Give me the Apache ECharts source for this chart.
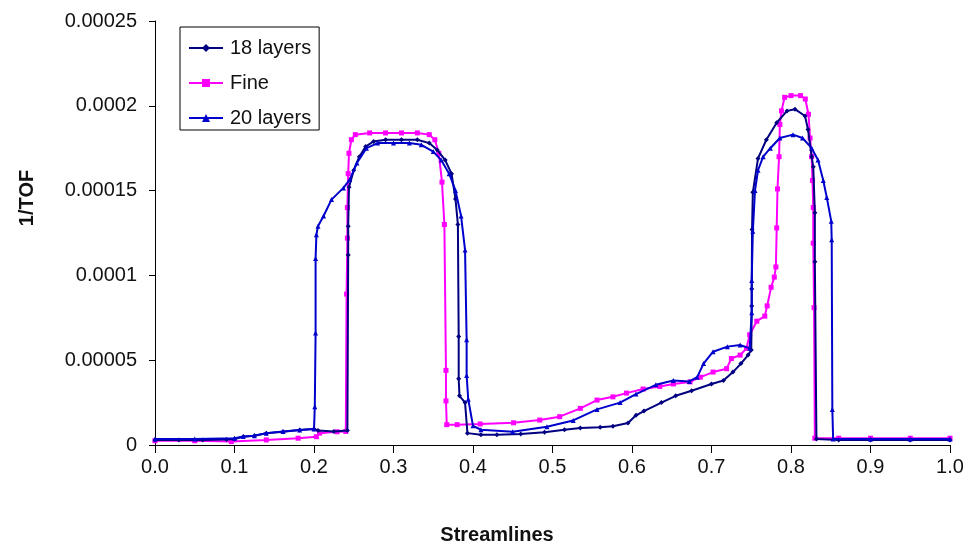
<!DOCTYPE html>
<html>
<head>
<meta charset="utf-8">
<script src="https://cdn.jsdelivr.net/npm/echarts@6/dist/echarts.min.js"></script>
<style>
  html, body { margin: 0; padding: 0; background: #fff; }
  #chart { width: 972px; height: 552px; }
</style>
</head>
<body>
<div id="chart"></div>
<script>
// Inverse time-of-flight along normalised streamline coordinate, three grid resolutions.
const seriesNames = ['18 layers', 'Fine', '20 layers'];
const xTicks = ['0.0', '0.1', '0.2', '0.3', '0.4', '0.5', '0.6', '0.7', '0.8', '0.9', '1.0'];
const yTicks = ['0', '0.00005', '0.0001', '0.00015', '0.0002', '0.00025'];

// [streamline, 1/TOF]
const layers18 = [
  [0.000, 0.29e-5], [0.030, 0.30e-5], [0.060, 0.30e-5], [0.090, 0.32e-5], [0.100, 0.35e-5],
  [0.111, 0.49e-5], [0.125, 0.55e-5], [0.140, 0.69e-5], [0.161, 0.78e-5], [0.182, 0.88e-5],
  [0.200, 0.95e-5], [0.205, 0.85e-5], [0.225, 0.80e-5], [0.242, 0.85e-5], [0.243, 1.12e-4],
  [0.243, 1.29e-4], [0.244, 1.52e-4], [0.250, 1.62e-4], [0.257, 1.70e-4], [0.265, 1.76e-4],
  [0.275, 1.79e-4], [0.290, 1.80e-4], [0.310, 1.80e-4], [0.330, 1.80e-4], [0.345, 1.78e-4],
  [0.355, 1.74e-4], [0.365, 1.68e-4], [0.373, 1.60e-4], [0.378, 1.45e-4], [0.381, 1.30e-4],
  [0.382, 6.4e-5], [0.382, 3.9e-5], [0.383, 2.9e-5], [0.390, 2.5e-5], [0.393, 0.70e-5],
  [0.410, 0.60e-5], [0.430, 0.60e-5], [0.460, 0.65e-5], [0.490, 0.75e-5], [0.515, 0.90e-5],
  [0.535, 1.00e-5], [0.560, 1.05e-5], [0.576, 1.10e-5], [0.595, 1.30e-5], [0.605, 1.75e-5],
  [0.615, 2.00e-5], [0.637, 2.50e-5], [0.655, 2.90e-5], [0.675, 3.20e-5], [0.700, 3.60e-5],
  [0.715, 3.80e-5], [0.727, 4.30e-5], [0.737, 4.80e-5], [0.746, 5.30e-5], [0.750, 5.60e-5],
  [0.7506, 8.2e-5], [0.7506, 9.2e-5], [0.751, 1.27e-4], [0.752, 1.49e-4], [0.7585, 1.69e-4],
  [0.769, 1.80e-4], [0.782, 1.90e-4], [0.795, 1.97e-4], [0.805, 1.98e-4], [0.8176, 1.94e-4],
  [0.8214, 1.86e-4], [0.826, 1.70e-4], [0.828, 1.64e-4], [0.830, 1.37e-4], [0.830, 1.08e-4],
  [0.832, 0.35e-5], [0.860, 0.30e-5], [0.900, 0.30e-5], [0.950, 0.30e-5], [1.000, 0.30e-5]
];

const fine = [
  [0.000, 0.25e-5], [0.050, 0.25e-5], [0.096, 0.20e-5], [0.140, 0.30e-5], [0.180, 0.40e-5],
  [0.203, 0.49e-5], [0.207, 0.70e-5], [0.229, 0.78e-5], [0.240, 0.80e-5], [0.241, 8.9e-5],
  [0.242, 1.22e-4], [0.242, 1.40e-4], [0.243, 1.60e-4], [0.244, 1.72e-4], [0.247, 1.80e-4],
  [0.252, 1.83e-4], [0.270, 1.84e-4], [0.290, 1.84e-4], [0.310, 1.84e-4], [0.330, 1.84e-4],
  [0.345, 1.83e-4], [0.352, 1.80e-4], [0.357, 1.72e-4], [0.361, 1.55e-4], [0.364, 1.30e-4],
  [0.366, 4.4e-5], [0.366, 2.6e-5], [0.367, 1.20e-5], [0.380, 1.20e-5], [0.409, 1.24e-5],
  [0.451, 1.31e-5], [0.484, 1.47e-5], [0.509, 1.67e-5], [0.535, 2.16e-5], [0.556, 2.65e-5],
  [0.576, 2.84e-5], [0.593, 3.06e-5], [0.614, 3.30e-5], [0.635, 3.45e-5], [0.652, 3.60e-5],
  [0.673, 3.72e-5], [0.686, 4.00e-5], [0.702, 4.30e-5], [0.719, 4.50e-5], [0.725, 5.10e-5],
  [0.736, 5.30e-5], [0.744, 5.70e-5], [0.748, 6.50e-5], [0.757, 7.30e-5], [0.767, 7.60e-5],
  [0.770, 8.20e-5], [0.775, 9.30e-5], [0.779, 9.90e-5], [0.781, 1.05e-4], [0.782, 1.28e-4],
  [0.783, 1.51e-4], [0.785, 1.70e-4], [0.786, 1.89e-4], [0.788, 1.97e-4], [0.792, 2.05e-4],
  [0.800, 2.06e-4], [0.812, 2.06e-4], [0.818, 2.04e-4], [0.822, 1.95e-4], [0.824, 1.81e-4],
  [0.826, 1.70e-4], [0.827, 1.56e-4], [0.828, 1.40e-4], [0.828, 1.19e-4], [0.829, 8.1e-5],
  [0.830, 0.40e-5], [0.860, 0.40e-5], [0.900, 0.40e-5], [0.950, 0.40e-5], [1.000, 0.40e-5]
];

const layers20 = [
  [0.000, 0.35e-5], [0.050, 0.35e-5], [0.100, 0.40e-5], [0.111, 0.50e-5], [0.125, 0.55e-5],
  [0.140, 0.70e-5], [0.161, 0.80e-5], [0.182, 0.88e-5], [0.200, 0.95e-5], [0.201, 2.25e-5],
  [0.202, 6.6e-5], [0.202, 1.10e-4], [0.203, 1.24e-4], [0.205, 1.29e-4], [0.212, 1.35e-4],
  [0.222, 1.447e-4], [0.237, 1.516e-4], [0.245, 1.565e-4], [0.254, 1.663e-4], [0.266, 1.75e-4],
  [0.280, 1.78e-4], [0.300, 1.78e-4], [0.320, 1.78e-4], [0.335, 1.77e-4], [0.350, 1.73e-4],
  [0.360, 1.68e-4], [0.370, 1.60e-4], [0.378, 1.50e-4], [0.385, 1.35e-4], [0.390, 1.15e-4],
  [0.392, 6.2e-5], [0.392, 4.1e-5], [0.394, 2.7e-5], [0.400, 1.13e-5], [0.410, 0.90e-5],
  [0.450, 0.78e-5], [0.493, 1.08e-5], [0.526, 1.45e-5], [0.556, 2.10e-5], [0.585, 2.50e-5],
  [0.605, 3.00e-5], [0.630, 3.55e-5], [0.652, 3.80e-5], [0.672, 3.75e-5], [0.682, 4.00e-5],
  [0.690, 4.80e-5], [0.702, 5.50e-5], [0.720, 5.80e-5], [0.736, 5.90e-5], [0.748, 5.70e-5],
  [0.7506, 7.8e-5], [0.7506, 9.7e-5], [0.752, 1.26e-4], [0.7547, 1.50e-4], [0.7585, 1.62e-4],
  [0.765, 1.70e-4], [0.774, 1.75e-4], [0.786, 1.81e-4], [0.8025, 1.83e-4], [0.8145, 1.81e-4],
  [0.826, 1.75e-4], [0.834, 1.68e-4], [0.8406, 1.56e-4], [0.845, 1.46e-4], [0.8506, 1.32e-4],
  [0.8512, 1.21e-4], [0.852, 2.1e-5], [0.853, 0.35e-5], [0.900, 0.35e-5], [0.950, 0.35e-5],
  [1.000, 0.35e-5]
];

const colors = { '18 layers': '#000080', 'Fine': '#FF00FF', '20 layers': '#0000CC' };
const symbols = { '18 layers': 'diamond', 'Fine': 'rect', '20 layers': 'triangle' };
const FONT = '"Liberation Sans", Arial, sans-serif';

function lineSeries(name, data, z) {
  return {
    name: name,
    type: 'line',
    data: data,
    z: z,
    symbol: symbols[name],
    symbolSize: 5,
    showSymbol: true,
    showAllSymbol: true,
    lineStyle: { color: colors[name], width: 2 },
    itemStyle: { color: colors[name], borderWidth: 0 },
    emphasis: { disabled: true }
  };
}

const chart = echarts.init(document.getElementById('chart'), null, { renderer: 'canvas' });
chart.setOption({
  animation: false,
  backgroundColor: '#ffffff',
  textStyle: { fontFamily: FONT },
  grid: { left: 155, right: 22, top: 21, bottom: 107 },
  legend: {
    data: seriesNames,
    orient: 'vertical',
    left: 180,
    top: 27,
    width: 137,
    padding: [11, 8, 2, 8],
    itemGap: 15,
    itemWidth: 34,
    itemHeight: 10,
    backgroundColor: '#ffffff',
    borderColor: '#000000',
    borderWidth: 1,
    borderRadius: 0,
    textStyle: { fontFamily: FONT, fontSize: 20, color: '#111', lineHeight: 20, padding: [0, 0, 0, 2] }
  },
  xAxis: {
    type: 'value',
    min: 0,
    max: 1,
    interval: 0.1,
    splitLine: { show: false },
    axisLine: { lineStyle: { color: '#000', width: 1 } },
    axisTick: { length: 8, lineStyle: { color: '#000' } },
    axisLabel: {
      margin: 12,
      fontSize: 20,
      color: '#111',
      fontFamily: FONT,
      formatter: function (v) { return xTicks[Math.round(v * 10)]; }
    }
  },
  yAxis: {
    type: 'value',
    min: 0,
    max: 0.00025,
    interval: 0.00005,
    splitLine: { show: false },
    axisLine: { show: true, lineStyle: { color: '#000', width: 1 } },
    axisTick: { show: true, length: 6, lineStyle: { color: '#000' } },
    axisLabel: {
      margin: 18,
      fontSize: 20,
      color: '#111',
      fontFamily: FONT,
      formatter: function (v) { return yTicks[Math.round(v / 0.00005)]; }
    }
  },
  graphic: [
    {
      type: 'text',
      x: 27,
      y: 198,
      rotation: Math.PI / 2,
      style: {
        text: '1/TOF',
        fontFamily: FONT,
        fontWeight: 'bold',
        fontSize: 20,
        fill: '#111',
        align: 'center',
        verticalAlign: 'middle'
      }
    },
    {
      type: 'text',
      x: 497,
      y: 535,
      style: {
        text: 'Streamlines',
        fontFamily: FONT,
        fontWeight: 'bold',
        fontSize: 20,
        fill: '#111',
        align: 'center',
        verticalAlign: 'middle'
      }
    }
  ],
  series: [
    lineSeries('Fine', fine, 2),
    lineSeries('18 layers', layers18, 3),
    lineSeries('20 layers', layers20, 4)
  ]
});
</script>
</body>
</html>
